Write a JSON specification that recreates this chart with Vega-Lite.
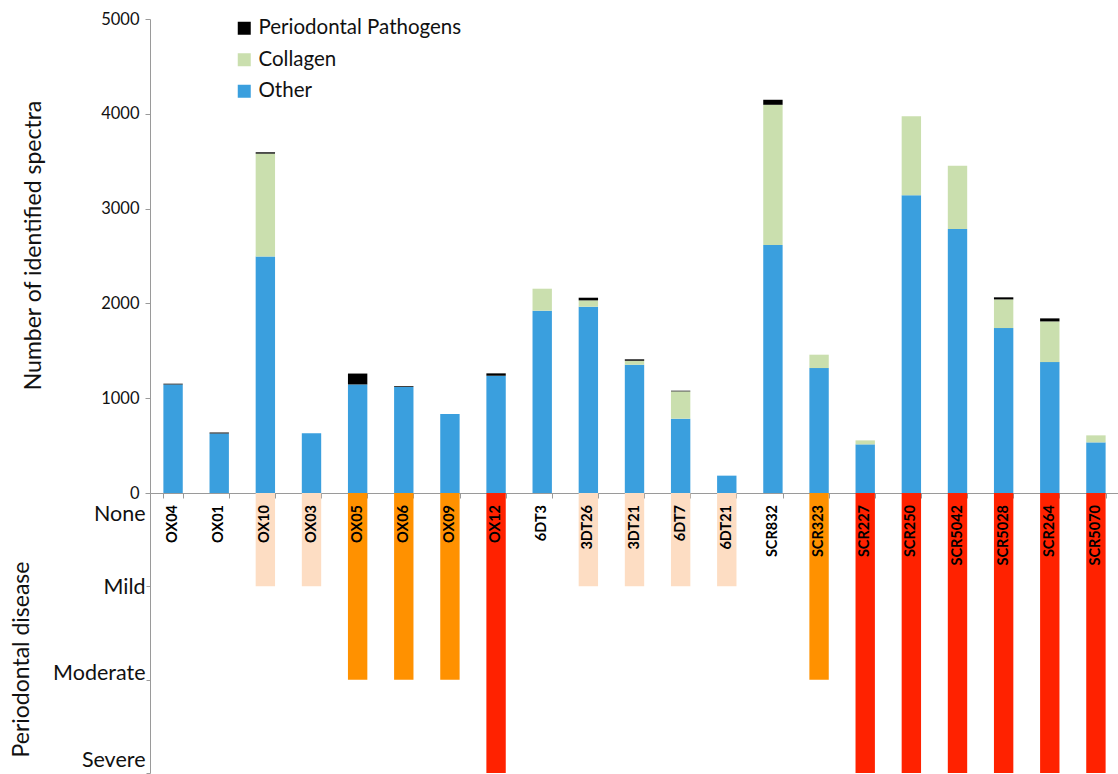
{
  "$schema": "https://vega.github.io/schema/vega-lite/v6.json",
  "padding": {"left": 10, "top": 11, "right": 0, "bottom": 0},
  "autosize": {"type": "pad"},
  "bounds": "flush",
  "spacing": 0,
  "config": {
    "font": "Lato",
    "view": {"stroke": null},
    "axis": {"labelColor": "#111111", "titleColor": "#111111", "domainColor": "#9a9a9a", "tickColor": "#9a9a9a", "titleFontWeight": "normal", "grid": false}
  },
  "resolve": {"scale": {"color": "independent"}, "legend": {"color": "independent"}},
  "data": {
    "values": [
      {"sample": "OX04", "Other": 1145, "Collagen": 0, "Periodontal Pathogens": 8, "disease": "None"},
      {"sample": "OX01", "Other": 628, "Collagen": 0, "Periodontal Pathogens": 10, "disease": "None"},
      {"sample": "OX10", "Other": 2495, "Collagen": 1085, "Periodontal Pathogens": 14, "disease": "Mild"},
      {"sample": "OX03", "Other": 630, "Collagen": 0, "Periodontal Pathogens": 0, "disease": "Mild"},
      {"sample": "OX05", "Other": 1145, "Collagen": 0, "Periodontal Pathogens": 115, "disease": "Moderate"},
      {"sample": "OX06", "Other": 1118, "Collagen": 0, "Periodontal Pathogens": 9, "disease": "Moderate"},
      {"sample": "OX09", "Other": 833, "Collagen": 0, "Periodontal Pathogens": 0, "disease": "Moderate"},
      {"sample": "OX12", "Other": 1237, "Collagen": 0, "Periodontal Pathogens": 25, "disease": "Severe"},
      {"sample": "6DT3", "Other": 1923, "Collagen": 232, "Periodontal Pathogens": 0, "disease": "None"},
      {"sample": "3DT26", "Other": 1965, "Collagen": 67, "Periodontal Pathogens": 28, "disease": "Mild"},
      {"sample": "3DT21", "Other": 1353, "Collagen": 42, "Periodontal Pathogens": 15, "disease": "Mild"},
      {"sample": "6DT7", "Other": 784, "Collagen": 288, "Periodontal Pathogens": 7, "disease": "Mild"},
      {"sample": "6DT21", "Other": 183, "Collagen": 0, "Periodontal Pathogens": 0, "disease": "Mild"},
      {"sample": "SCR832", "Other": 2615, "Collagen": 1480, "Periodontal Pathogens": 53, "disease": "None"},
      {"sample": "SCR323", "Other": 1318, "Collagen": 141, "Periodontal Pathogens": 0, "disease": "Moderate"},
      {"sample": "SCR227", "Other": 513, "Collagen": 42, "Periodontal Pathogens": 0, "disease": "Severe"},
      {"sample": "SCR250", "Other": 3142, "Collagen": 833, "Periodontal Pathogens": 0, "disease": "Severe"},
      {"sample": "SCR5042", "Other": 2784, "Collagen": 668, "Periodontal Pathogens": 0, "disease": "Severe"},
      {"sample": "SCR5028", "Other": 1740, "Collagen": 302, "Periodontal Pathogens": 22, "disease": "Severe"},
      {"sample": "SCR264", "Other": 1381, "Collagen": 429, "Periodontal Pathogens": 32, "disease": "Severe"},
      {"sample": "SCR5070", "Other": 534, "Collagen": 74, "Periodontal Pathogens": 0, "disease": "Severe"}
    ]
  },
  "vconcat": [
    {
      "width": 969,
      "height": 474,
      "transform": [
        {"fold": ["Other", "Collagen", "Periodontal Pathogens"], "as": ["part", "count"]},
        {"calculate": "indexof(['Other', 'Collagen', 'Periodontal Pathogens'], datum.part)", "as": "stackRank"}
      ],
      "mark": {"type": "bar"},
      "encoding": {
        "x": {
          "field": "sample", "type": "nominal", "sort": null,
          "scale": {"paddingInner": 0.58, "paddingOuter": 0.29},
          "axis": {"title": null, "labels": false, "ticks": true, "tickBand": "extent", "tickSize": 5, "orient": "bottom"}
        },
        "y": {
          "field": "count", "type": "quantitative", "stack": "zero",
          "scale": {"domain": [0, 5000], "nice": false},
          "axis": {
            "title": "Number of identified spectra", "titleFontSize": 23,
            "titleX": -117, "titleY": 226, "titleBaseline": "middle", "titleAlign": "center", "titleAngle": 270,
            "values": [0, 1000, 2000, 3000, 4000, 5000], "format": "d", "labelFontSize": 16.5, "tickSize": 5, "labelPadding": 6
          }
        },
        "color": {
          "field": "part", "type": "nominal",
          "scale": {"domain": ["Periodontal Pathogens", "Collagen", "Other"], "range": ["#000000", "#CADFAE", "#3A9FDE"]},
          "legend": {
            "orient": "none", "legendX": 84, "legendY": -1, "title": null, "symbolType": "square",
            "symbolSize": 169, "symbolStrokeWidth": 0, "labelFontSize": 20.5, "labelColor": "#111111", "labelLimit": 0,
            "rowPadding": 10.5, "labelOffset": 4, "padding": 0
          }
        },
        "order": {"field": "stackRank", "type": "quantitative"}
      }
    },
    {
      "width": 969,
      "height": 280,
      "encoding": {
        "x": {
          "field": "sample", "type": "nominal", "sort": null,
          "scale": {"paddingInner": 0.58, "paddingOuter": 0.29},
          "axis": null
        }
      },
      "layer": [
        {
          "mark": {"type": "bar"},
          "encoding": {
            "y": {
              "field": "disease", "type": "ordinal",
              "scale": {"type": "point", "domain": ["None", "Mild", "Moderate", "Severe"], "padding": 0},
              "axis": {
                "title": "Periodontal disease", "titleFontSize": 23,
                "titleX": -129, "titleY": 166, "titleBaseline": "middle", "titleAlign": "center", "titleAngle": 270,
                "labelFontSize": 21.5, "tickSize": 4, "labelPadding": 1,
                "labelOffset": {
                  "condition": [
                    {"test": "datum.value === 'None'", "value": 21},
                    {"test": "datum.value === 'Moderate'", "value": -6},
                    {"test": "datum.value === 'Severe'", "value": -13}
                  ],
                  "value": 1
                }
              }
            },
            "y2": {"datum": "None"},
            "color": {
              "field": "disease", "type": "nominal",
              "scale": {"domain": ["None", "Mild", "Moderate", "Severe"], "range": ["#ffffff", "#FDDDC3", "#FF9100", "#FF2200"]},
              "legend": null
            }
          }
        },
        {
          "mark": {"type": "text", "angle": 270, "align": "right", "baseline": "middle", "dx": -12, "fontWeight": "bold", "fontSize": 14.5, "color": "#000000"},
          "encoding": {
            "y": {"datum": "None", "type": "ordinal"},
            "text": {"field": "sample"}
          }
        }
      ]
    }
  ]
}
